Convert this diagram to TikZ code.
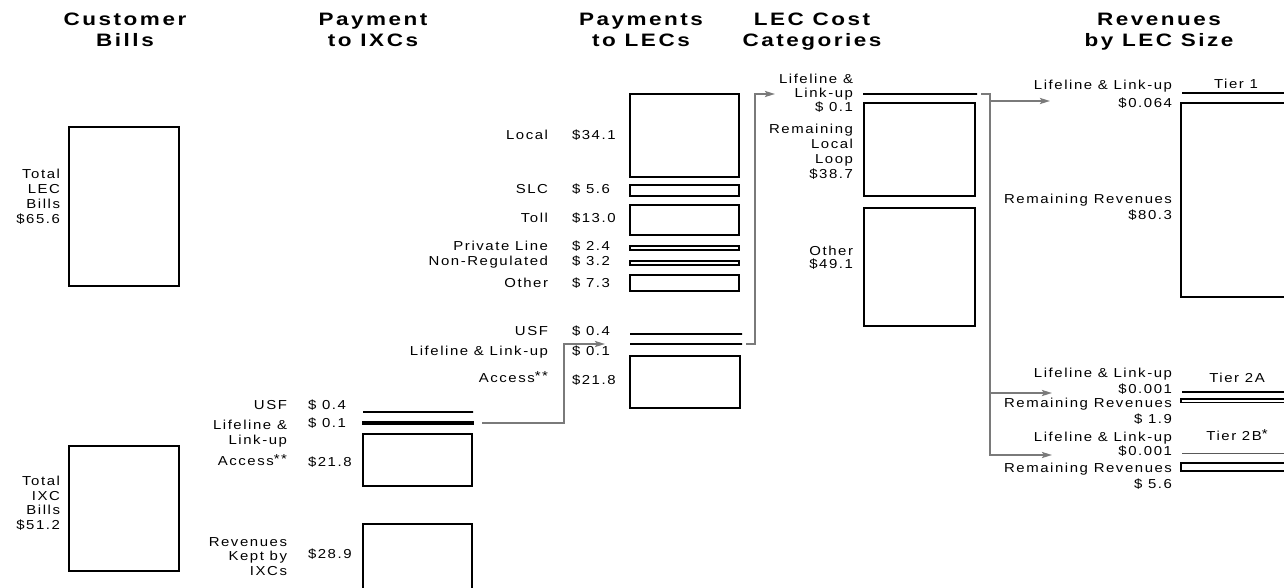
\documentclass[tikz,border=0pt]{standalone}
\usepackage{fontspec}
\setmainfont{Liberation Sans}
\newfontfamily\lblfont{Liberation Sans}[LetterSpace=12, FakeStretch=1.15]
\newfontfamily\hdrfont{Liberation Sans}[LetterSpace=14, FakeStretch=1.25]
\usetikzlibrary{arrows.meta}
\definecolor{feedgray}{RGB}{122,122,122}

\begin{document}
\begin{tikzpicture}[x=1pt, y=-1pt,
  every node/.style={inner sep=0pt, outer sep=0pt},
  hdr/.style={font=\hdrfont\bfseries\fontsize{18}{21}\selectfont, align=center, anchor=north},
  lbl/.style={font=\lblfont\fontsize{13}{14.5}\selectfont},
  spread/.style={font=\lblfont\fontsize{13}{#1}\selectfont},
  item/.style={lbl, anchor=mid east},
  amt/.style={lbl, anchor=mid west},
  lblstack/.style={lbl, align=right, anchor=north east},
  bar/.style={draw, line width=2.4pt, anchor=north west},
  rule/.style={draw, anchor=west, minimum height=0pt},
  feed/.style={draw=feedgray, line width=2.4pt, -{Stealth[length=10pt, width=6pt, inset=2pt]}}]
  \path[use as bounding box] (0,0) rectangle (1284,588);
  \clip (0,0) rectangle (1284,588);
  \fill[white] (0,0) rectangle (1284,588);

  \node[hdr] (hcust) at (125,13) {Customer\\Bills};
  \node[hdr] (hixc) at (373,13) {Payment\\to IXCs};
  \node[hdr] (hlec) at (641,13) {Payments\\to LECs};
  \node[hdr] (hcost) at (812,13) {LEC Cost\\Categories};
  \node[hdr] (hsize) at (1159,13) {Revenues\\by LEC Size};

  \node[bar, minimum width=110pt, minimum height=159pt] (lecbill) at (69,127) {};
  \node[lblstack, spread=15pt] (lecbilltxt) at (60,169.5) {Total\\LEC\\Bills\\\$65.6};
  \node[bar, minimum width=110pt, minimum height=125pt] (ixcbill) at (69,446) {};
  \node[lblstack] (ixcbilltxt) at (60,476.5) {Total\\IXC\\Bills\\\$51.2};

  \node[rule, line width=1.8pt, minimum width=110pt] (ixcusf) at (363,412) {};
  \node[rule, line width=1.5pt, minimum width=110pt, minimum height=2pt] (ixcll) at (363,423) {};
  \node[bar, minimum width=109pt, minimum height=52pt] (ixcacc) at (363,434) {};
  \node[bar, minimum width=109pt, minimum height=90pt] (ixckept) at (363,524) {};
  \node[item] (ixcusfname) at (287,407) {USF};
  \node[amt] (ixcusfamt) at (308,407) {\$ 0.4};
  \node[lblstack, spread=15pt] (ixcllname) at (287,420.5) {Lifeline \&\\Link-up};
  \node[amt] (ixcllamt) at (308,425) {\$ 0.1};
  \node[item] (ixcaccname) at (287,463) {Access\raisebox{2.5pt}{**}};
  \node[amt] (ixcaccamt) at (308,464) {\$21.8};
  \node[lblstack] (ixckeptname) at (287,537.5) {Revenues\\Kept by\\IXCs};
  \node[amt] (ixckeptamt) at (308,556) {\$28.9};

  \node[bar, minimum width=109pt, minimum height=83pt] (local) at (630,94) {};
  \node[bar, minimum width=109pt, minimum height=11pt] (slc) at (630,185) {};
  \node[bar, minimum width=109pt, minimum height=30pt] (toll) at (630,205) {};
  \node[bar, minimum width=109pt, minimum height=4pt] (privline) at (630,246) {};
  \node[bar, minimum width=109pt, minimum height=4pt] (nonreg) at (630,261) {};
  \node[bar, minimum width=109pt, minimum height=16pt] (lecother) at (630,275) {};
  \node[rule, line width=1.6pt, minimum width=112pt] (lecusf) at (630,334) {};
  \node[rule, line width=1.4pt, minimum width=112pt] (lecll) at (630,344) {};
  \node[bar, minimum width=110pt, minimum height=52pt] (lecacc) at (630,356) {};
  \node[item] (localname) at (548,137) {Local};
  \node[amt] (localamt) at (572,137) {\$34.1};
  \node[item] (slcname) at (548,191) {SLC};
  \node[amt] (slcamt) at (572,191) {\$ 5.6};
  \node[item] (tollname) at (548,220) {Toll};
  \node[amt] (tollamt) at (572,220) {\$13.0};
  \node[item] (privlinename) at (548,248) {Private Line};
  \node[amt] (privlineamt) at (572,248) {\$ 2.4};
  \node[item] (nonregname) at (548,263) {Non-Regulated};
  \node[amt] (nonregamt) at (572,263) {\$ 3.2};
  \node[item] (lecothername) at (548,285) {Other};
  \node[amt] (lecotheramt) at (572,285) {\$ 7.3};
  \node[item] (lecusfname) at (548,333) {USF};
  \node[amt] (lecusfamt) at (572,333) {\$ 0.4};
  \node[item] (lecllname) at (548,353) {Lifeline \& Link-up};
  \node[amt] (lecllamt) at (572,353) {\$ 0.1};
  \node[item] (lecaccname) at (548,380) {Access\raisebox{2.5pt}{**}};
  \node[amt] (lecaccamt) at (572,382) {\$21.8};

  \node[rule, line width=1.2pt, minimum width=114pt] (costll) at (863,94) {};
  \node[bar, minimum width=111pt, minimum height=93pt] (loop) at (864,103) {};
  \node[bar, minimum width=111pt, minimum height=118pt] (costother) at (864,208) {};
  \node[lblstack, spread=14pt] (costlltxt) at (853,74.5) {Lifeline \&\\Link-up\\\$ 0.1};
  \node[lblstack, spread=15pt] (looptxt) at (853,124.5) {Remaining\\Local\\Loop\\\$38.7};
  \node[lblstack, spread=13pt] (costothertxt) at (853,246.5) {Other\\\$49.1};

  \node[rule, line width=1.2pt, minimum width=120pt] (t1rule) at (1182,93) {};
  \node[bar, minimum width=150pt, minimum height=194pt] (tier1) at (1181,103) {};
  \node[lbl, anchor=mid] (t1name) at (1236,86) {Tier 1};
  \node[lblstack, spread=18pt] (t1lltxt) at (1172,80.5) {Lifeline \& Link-up\\\$0.064};
  \node[lblstack, spread=16pt] (t1resttxt) at (1172,194.5) {Remaining Revenues\\\$80.3};

  \node[rule, line width=2pt, minimum width=120pt] (t2arule) at (1182,392) {};
  \node[rule, line width=1.5pt, minimum width=120pt, minimum height=3.5pt] (t2arest) at (1181,400.5) {};
  \node[lbl, anchor=mid] (t2aname) at (1237,380) {Tier 2A};
  \node[lblstack, spread=16pt] (t2alltxt) at (1172,368.5) {Lifeline \& Link-up\\\$0.001};
  \node[lblstack, spread=16pt] (t2aresttxt) at (1172,398.5) {Remaining Revenues\\\$ 1.9};

  \node[rule, line width=1pt, minimum width=120pt] (t2brule) at (1182,453) {};
  \node[bar, minimum width=150pt, minimum height=8pt] (t2brest) at (1181,463) {};
  \node[lbl, anchor=mid] (t2bname) at (1237,438) {Tier 2B\raisebox{2.5pt}{*}};
  \node[lblstack, spread=14pt] (t2blltxt) at (1172,432.5) {Lifeline \& Link-up\\\$0.001};
  \node[lblstack, spread=16pt] (t2bresttxt) at (1172,463.5) {Remaining Revenues\\\$ 5.6};

  \coordinate (split) at (990,455);
  \coordinate (t1in) at (1050,101);
  \coordinate (t2ain) at (1052,393);
  \coordinate (t2bin) at (1052,455);
  \draw[feed] ([xshift=9pt]ixcll.east) -| ([xshift=-66pt]lecll.west) -- ([xshift=-25pt]lecll.west);
  \draw[feed] ([xshift=4pt]lecll.east) -| ([xshift=-108pt]costll.west) -- ([xshift=-88pt]costll.west);
  \draw[feed] ([xshift=4pt]costll.east) -| (split) -- (t2bin);
  \draw[feed] (split |- t1in) -- (t1in);
  \draw[feed] (split |- t2ain) -- (t2ain);
\end{tikzpicture}
\end{document}
